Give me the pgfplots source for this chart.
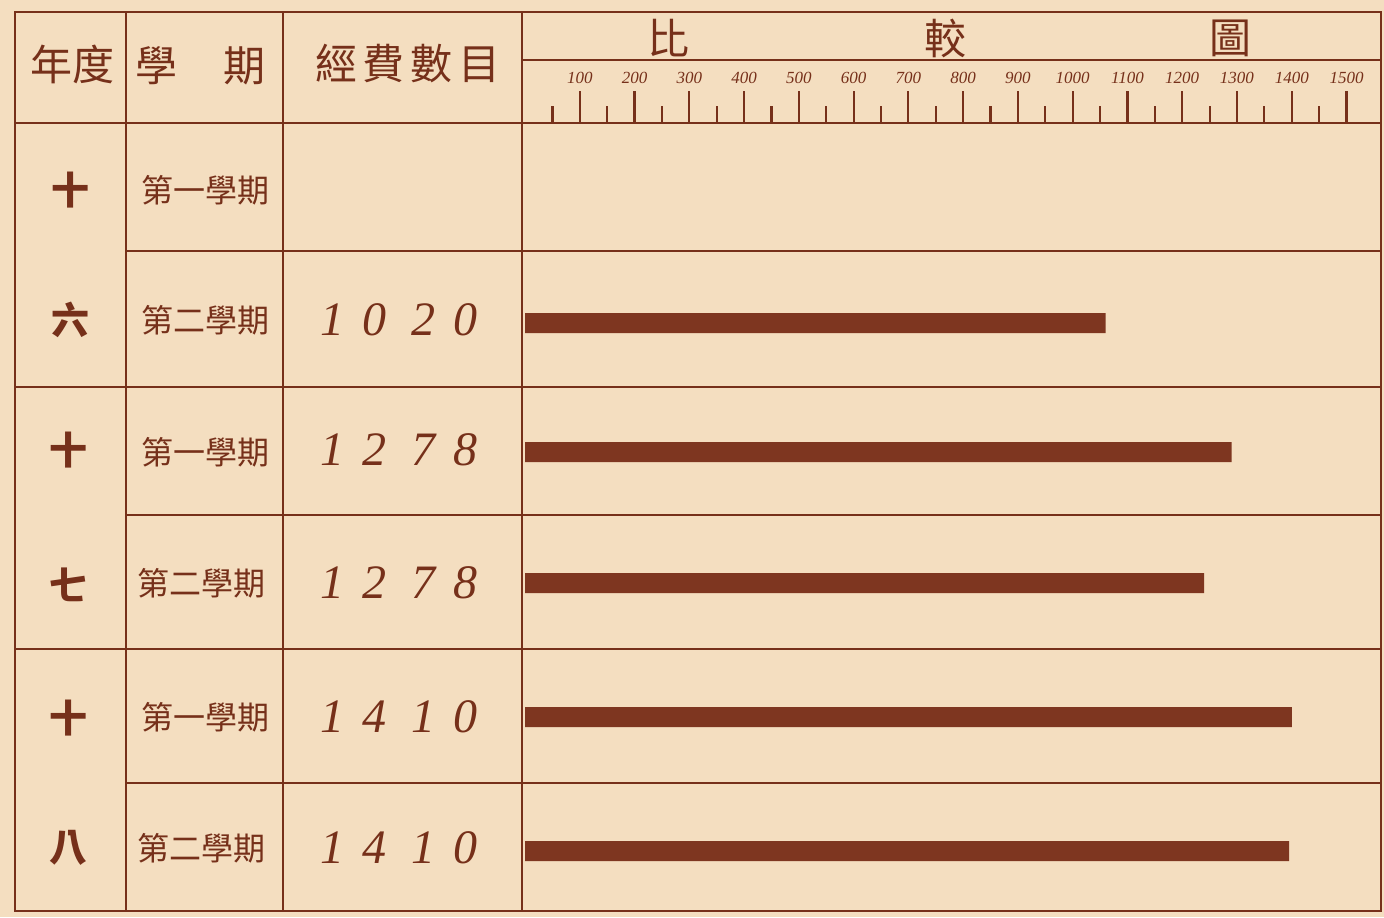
\documentclass[border=0pt]{standalone}
\usepackage{fontspec}
\usepackage{pgfplots}
\usepackage{pgfplotstable}
\pgfplotsset{compat=1.18}
\setmainfont{Liberation Serif}
\newfontfamily\cjk{Noto Sans CJK TC}
\definecolor{paper}{RGB}{244,222,192}
\definecolor{ink}{RGB}{118,48,26}
\definecolor{barc}{RGB}{126,54,32}

% bar rows: y = row centre (px from top), v = length read on the scale
\pgfplotstableread{
y v
323 1060
452 1290
583 1240
717 1400
851 1395
}\bars

\newcommand\amt[5]{%
  \node[font=\fontsize{24}{24}\selectfont\itshape, text=ink] at (332,#1) {#2};
  \node[font=\fontsize{24}{24}\selectfont\itshape, text=ink] at (374,#1) {#3};
  \node[font=\fontsize{24}{24}\selectfont\itshape, text=ink] at (423,#1) {#4};
  \node[font=\fontsize{24}{24}\selectfont\itshape, text=ink] at (465,#1) {#5};}

\begin{document}
\begin{tikzpicture}[x=0.5pt,y=-0.5pt]
\fill[paper] (0,0) rectangle (1384,917);
\begin{axis}[
  at={(261pt,-455.5pt)}, anchor=south west,
  scale only axis, width=429.5pt, height=394pt,
  xmin=-5.5, xmax=1563, ymin=123, ymax=911, y dir=reverse,
  axis line style={draw=none},
  xtick={100,200,...,1500}, minor xtick={50,150,...,1450},
  xtick pos=upper, xticklabel pos=upper, tick align=outside,
  major tick length=16pt, minor tick length=8.5pt,
  tick style={ink, line width=1.1pt},
  ytick=\empty,
  xticklabel style={font=\fontsize{8.5}{8.5}\selectfont\itshape, text=ink},
  /pgf/number format/1000 sep={}, /pgf/number format/assume math mode=true,
  clip=false,
]
\addplot[xbar, fill=barc, draw=none, bar width=10pt] table[x=v, y=y] {\bars};
\end{axis}
% table rules
\begin{scope}[ink, line width=1.1pt]
\draw (15,12) rectangle (1381,911);
\draw (126,12) -- (126,911);
\draw (283,12) -- (283,911);
\draw (522,12) -- (522,911);
\draw (15,123) -- (1381,123);
\draw (15,387) -- (1381,387);
\draw (15,649) -- (1381,649);
\draw (126,251) -- (1381,251);
\draw (126,515) -- (1381,515);
\draw (126,783) -- (1381,783);
\draw (522,60) -- (1381,60);
\end{scope}
% header
\begin{scope}[every node/.style={text=ink, font=\cjk\fontsize{21}{21}\selectfont}]
\node at (72,64) {年度};
\node at (156,66) {學};
\node at (244,66) {期};
\node at (408,64) {經\hspace{3pt}費\hspace{3pt}數\hspace{3pt}目};
\node at (668,38) {比};
\node at (945,38) {較};
\node at (1230,38) {圖};
\end{scope}
% year column
\begin{scope}[every node/.style={text=ink, font=\cjk\bfseries\fontsize{19}{19}\selectfont}]
\node at (70,190) {十};
\node at (70,320) {六};
\node at (68,450) {十};
\node at (68,585) {七};
\node at (68,718) {十};
\node at (68,848) {八};
\end{scope}
% term column
\begin{scope}[every node/.style={text=ink, font=\cjk\fontsize{16}{16}\selectfont}]
\node at (205,190) {第一學期};
\node at (205,320) {第二學期};
\node at (205,452) {第一學期};
\node at (201,583) {第二學期};
\node at (205,717) {第一學期};
\node at (201,848) {第二學期};
\end{scope}
% amounts
\amt{320}{1}{0}{2}{0}
\amt{450}{1}{2}{7}{8}
\amt{583}{1}{2}{7}{8}
\amt{717}{1}{4}{1}{0}
\amt{848}{1}{4}{1}{0}
\end{tikzpicture}
\end{document}
